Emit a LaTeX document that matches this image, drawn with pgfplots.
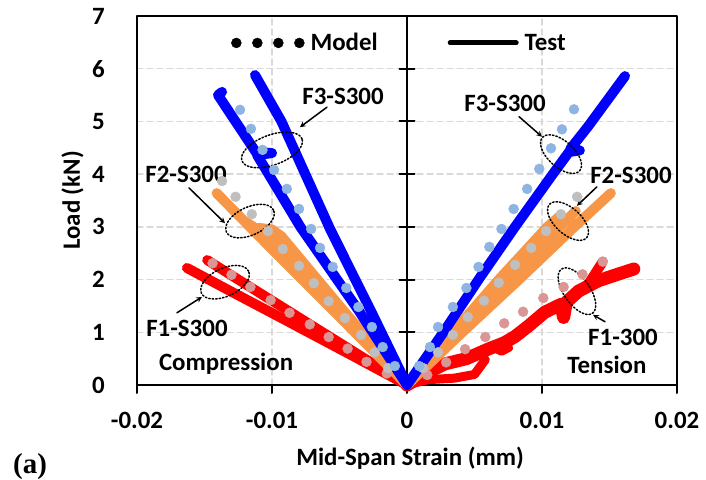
\documentclass[border=0pt]{standalone}
\usepackage{fontspec}
\setmainfont{Carlito}
\newfontfamily\timesb{Liberation Serif}
\usepackage{pgfplots}
\pgfplotsset{compat=1.18}
\definecolor{testblue}{RGB}{0,0,255}
\definecolor{testorange}{RGB}{247,150,70}
\definecolor{testred}{RGB}{255,0,0}
\definecolor{modblue}{RGB}{141,180,226}
\definecolor{modgray}{RGB}{191,191,191}
\definecolor{modred}{RGB}{218,150,148}
\definecolor{gridgray}{RGB}{217,217,217}
\newcommand\lbl{\fontsize{25pt}{30pt}\selectfont\bfseries}

\begin{document}
\begin{tikzpicture}
\begin{axis}[
  scale only axis, width=540bp, height=369bp,
  xmin=-0.02, xmax=0.02, ymin=0, ymax=7,
  xtick={-0.02,-0.01,0,0.01,0.02},
  xticklabels={-0.02,-0.01,0,0.01,0.02},
  scaled x ticks=false,
  ytick={0,1,2,3,4,5,6,7},
  yticklabels={0,1,2,3,4,5,6,7},
  xtick pos=bottom, tick align=outside, major tick length=8bp,
  x tick style={black, line width=2bp},
  y tick style={draw=none},
  xticklabel style={font=\lbl, inner sep=0pt, yshift=-19bp},
  yticklabel style={font=\lbl, inner sep=0pt, xshift=-24bp},
  axis line style={black, line width=2bp},
  grid=major,
  major grid style={gridgray, line width=1.5bp, dash pattern=on 6bp off 4bp},
  xlabel={Mid-Span Strain (mm)}, ylabel={Load (kN)},
  every axis x label/.style={at={(axis description cs:0.5056,-0.2168)}, anchor=base, font=\lbl},
  every axis y label/.style={at={(axis description cs:-0.1056,0.5)}, anchor=base, rotate=90, font=\lbl},
  legend columns=2,
  legend style={draw=none, fill=none, font=\lbl, at={(0.486,0.927)}, anchor=center,
    /tikz/every odd column/.append style={column sep=4bp},
    /tikz/every even column/.append style={column sep=68bp}},
  clip=false,
  line cap=round, line join=round
]
% legend
\addlegendimage{legend image code/.code={
  \fill[black] (0bp,0bp) circle (5bp); \fill[black] (21bp,0bp) circle (5bp);
  \fill[black] (42bp,0bp) circle (5bp); \fill[black] (63bp,0bp) circle (5bp);}}
\addlegendentry{Model}
\addlegendimage{legend image code/.code={
  \draw[black, line width=5bp, line cap=round] (0bp,0bp) -- (66bp,0bp);}}
\addlegendentry{Test}

% central load axis
\draw[black, line width=2bp] (axis cs:0,0) -- (axis cs:0,7);
\pgfplotsinvokeforeach{1,2,3,4,5,6}{
  \draw[black, line width=2bp] ([xshift=-7.5bp]axis cs:0,#1) -- ([xshift=7.5bp]axis cs:0,#1);
}

% ---- Test: red
\addplot[forget plot, testred, line width=10bp] coordinates {
  (0,0) (-0.0040,0.55) (-0.0090,1.23) (-0.0130,1.77) (-0.0163,2.22)};
\addplot[forget plot, testred, line width=10bp] coordinates {
  (0,0) (-0.0040,0.64) (-0.0090,1.44) (-0.0130,2.08) (-0.0148,2.37)};
\addplot[forget plot, testred, line width=13bp] coordinates {
  (0,0) (0.0014,0.22) (0.0028,0.40) (0.0044,0.50) (0.0060,0.68) (0.0072,0.80)
  (0.0080,0.92) (0.0090,1.12) (0.0102,1.38) (0.0114,1.53)
  (0.0116,1.28) (0.0118,1.57) (0.0127,1.78) (0.0142,1.98) (0.0156,2.10) (0.0168,2.20)};
\addplot[forget plot, testred, line width=10bp] coordinates {
  (0.0134,1.90) (0.0140,2.14) (0.0145,2.34)};
\addplot[forget plot, testred, line width=9bp] coordinates {
  (0,0) (0.0015,0.10) (0.0035,0.13) (0.0050,0.20) (0.0058,0.48)};
\addplot[forget plot, testred, line width=7bp] coordinates {
  (0.0064,0.70) (0.0070,0.62) (0.0076,0.70)};

% ---- Test: orange
\addplot[forget plot, testorange, line width=10bp] coordinates {
  (0,0) (-0.0058,1.50) (-0.0101,2.60) (-0.0141,3.64)};
\addplot[forget plot, testorange, line width=10bp] coordinates {
  (0,0) (-0.0054,1.50) (-0.0098,2.75) (-0.0120,3.10)};
\addplot[forget plot, testorange, line width=10bp] coordinates {
  (0,0) (-0.0050,1.50) (-0.0093,2.82) (-0.0100,2.95) (-0.0110,2.98)};
\addplot[forget plot, testorange, line width=10bp] coordinates {
  (0,0) (0.0041,1.00) (0.0083,2.00) (0.0124,3.00) (0.0151,3.64)};
\addplot[forget plot, testorange, line width=10bp] coordinates {
  (0,0) (0.0037,1.00) (0.0075,2.00) (0.0113,3.00) (0.0125,3.30)};
\addplot[forget plot, testorange, line width=10bp] coordinates {
  (0,0) (0.0034,1.00) (0.0068,2.00) (0.0104,3.00) (0.0113,3.20) (0.0122,3.10)};

% ---- Test: blue
\addplot[forget plot, testblue, line width=10bp] coordinates {
  (0,0) (-0.0036,1.42) (-0.0079,3.00) (-0.0111,4.36) (-0.0100,4.40)
  (-0.0112,4.42) (-0.0140,5.50) (-0.0137,5.56)};
\addplot[forget plot, testblue, line width=10bp] coordinates {
  (0,0) (-0.0027,1.42) (-0.0057,2.96) (-0.0093,5.00) (-0.01126,5.88)};
\addplot[forget plot, testblue, line width=10bp] coordinates {
  (0,0) (0.0027,1.00) (0.0053,2.00) (0.0080,3.00) (0.0108,4.00) (0.0120,4.42)
  (0.0128,4.45) (0.0121,4.48) (0.0134,4.90) (0.01615,5.86)};

% ---- Model dots
\addplot[forget plot, modred, only marks, mark=*, mark size=5bp, mark options={draw=modred, fill=modred}] coordinates {
  (-0.0144,2.31) (-0.0130,2.09) (-0.0116,1.86) (-0.0101,1.61) (-0.0087,1.37)
  (-0.0072,1.15) (-0.0058,0.91) (-0.0044,0.69) (-0.0030,0.44) (-0.0015,0.22)
  (0.0015,0.19) (0.0029,0.43) (0.0043,0.68) (0.0058,0.91) (0.0072,1.17)
  (0.0086,1.39) (0.0101,1.65) (0.0116,1.86) (0.0130,2.10) (0.0145,2.34)};
\addplot[forget plot, modgray, only marks, mark=*, mark size=5bp, mark options={draw=modgray, fill=modgray}] coordinates {
  (-0.0137,3.87) (-0.0127,3.57) (-0.0115,3.24) (-0.0103,2.92) (-0.0092,2.58)
  (-0.0080,2.26) (-0.0069,1.93) (-0.0058,1.59) (-0.0046,1.27) (-0.0034,0.95)
  (-0.0024,0.62) (-0.0014,0.32)
  (0.0012,0.32) (0.0023,0.62) (0.0034,0.95) (0.0045,1.29) (0.0057,1.60)
  (0.0068,1.94) (0.0080,2.28) (0.0092,2.60) (0.0103,2.92) (0.0114,3.24) (0.0126,3.57)};
\addplot[forget plot, modblue, only marks, mark=*, mark size=5bp, mark options={draw=modblue, fill=modblue}] coordinates {
  (-0.01237,5.22) (-0.01156,4.86) (-0.0107,4.46) (-0.00985,4.08) (-0.0089,3.72)
  (-0.0080,3.34) (-0.0071,2.96) (-0.00644,2.60) (-0.0055,2.24) (-0.0045,1.84)
  (-0.0036,1.48) (-0.0026,1.10) (-0.0018,0.72) (-0.0009,0.36)
  (0.0009,0.36) (0.0017,0.72) (0.0023,1.10) (0.0034,1.48) (0.0044,1.84)
  (0.0053,2.24) (0.0061,2.62) (0.0070,2.96) (0.0079,3.34) (0.0089,3.72)
  (0.0098,4.10) (0.01067,4.49) (0.01148,4.85) (0.01237,5.23)};

% ---- annotations
\begin{scope}[black, line width=1.5bp]
\draw[dotted] (axis cs:-0.0100,4.46) ellipse [x radius=32bp, y radius=15bp, rotate=20];
\draw[dotted] (axis cs:-0.01163,3.11) ellipse [x radius=26bp, y radius=14bp, rotate=25];
\draw[dotted] (axis cs:-0.01348,1.95) ellipse [x radius=26bp, y radius=14bp, rotate=25];
\draw[dotted] (axis cs:0.01141,4.38) ellipse [x radius=25bp, y radius=13bp, rotate=-42];
\draw[dotted] (axis cs:0.01193,3.11) ellipse [x radius=25bp, y radius=13bp, rotate=-42];
\draw[dotted] (axis cs:0.01259,1.78) ellipse [x radius=27bp, y radius=13bp, rotate=-55];
\draw[-stealth] (axis cs:-0.00593,5.27) -- (axis cs:-0.00793,4.89);
\draw[-stealth] (axis cs:-0.01615,3.74) -- (axis cs:-0.01348,3.07);
\draw[-stealth] (axis cs:-0.01704,1.37) -- (axis cs:-0.01519,1.67);
\draw[-stealth] (axis cs:0.0083,5.09) -- (axis cs:0.0100,4.71);
\draw[-stealth] (axis cs:0.01407,3.76) -- (axis cs:0.01259,3.40);
\draw[-stealth] (axis cs:0.01467,1.20) -- (axis cs:0.01378,1.33);
\end{scope}
\begin{scope}[every node/.style={font=\lbl, inner sep=0pt, anchor=center}]
\node at (axis cs:-0.00474,5.48) {F3-S300};
\node at (axis cs:-0.01637,4.00) {F2-S300};
\node at (axis cs:-0.0163,1.08) {F1-S300};
\node at (axis cs:-0.0134,0.40) {Compression};
\node at (axis cs:0.00726,5.35) {F3-S300};
\node at (axis cs:0.01659,3.98) {F2-S300};
\node at (axis cs:0.0160,0.91) {F1-300};
\node at (axis cs:0.01481,0.38) {Tension};
\end{scope}
\node[font=\timesb\fontsize{29pt}{34pt}\selectfont\bfseries, inner sep=0pt, anchor=base west]
  at (rel axis cs:-0.2296,-0.2385) {(a)};
\end{axis}
\path (current axis.south west) ++(-137bp,-95bp) rectangle ++(706bp,480bp);
\end{tikzpicture}
\end{document}
